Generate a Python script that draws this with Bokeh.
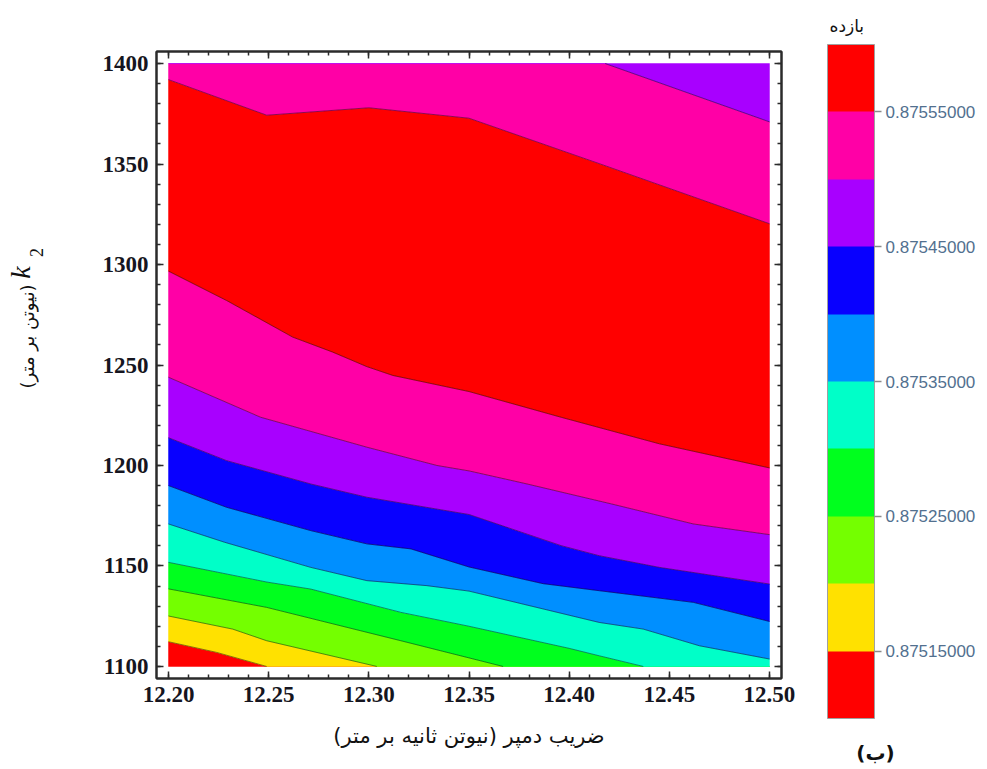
from bokeh.plotting import figure
from bokeh.models import (Range1d, LinearAxis, SingleIntervalTicker, PrintfTickFormatter,
                          CustomJSTickFormatter, Label, FixedTicker, ColorBar, LinearColorMapper)
from bokeh.embed import file_html
from bokeh.resources import INLINE

# ---------------- data ----------------
X_MIN, X_MAX = 12.20, 12.50
Y_MIN, Y_MAX = 1100.0, 1400.0

levels = [0.87510, 0.87515, 0.87520, 0.87525, 0.87530, 0.87535,
          0.87540, 0.87545, 0.87550, 0.87555, 0.87560]
band_colors = ["#ff0000", "#ffe100", "#74ff00", "#00ff1e", "#00ffc8",
               "#008fff", "#0800ff", "#a800ff", "#ff00a6", "#ff0000"]
cbar_ticks = [0.87515, 0.87525, 0.87535, 0.87545, 0.87555]

# contour lines: damping coefficient (x) vs k2 (y)
c_87515_x = [12.200, 12.224, 12.249]
c_87515_y = [1112.3, 1107.0, 1100.0]
c_87520_x = [12.200, 12.232, 12.249, 12.304]
c_87520_y = [1125.1, 1118.6, 1112.8, 1100.0]
c_87525_x = [12.200, 12.249, 12.316, 12.367]
c_87525_y = [1138.6, 1129.4, 1112.8, 1100.0]
c_87530_x = [12.200, 12.249, 12.271, 12.316, 12.350, 12.400, 12.415, 12.437]
c_87530_y = [1151.8, 1142.0, 1138.5, 1126.9, 1120.0, 1109.0, 1105.3, 1100.0]
c_87535_x = [12.200, 12.228, 12.271, 12.299, 12.329, 12.350, 12.415, 12.437, 12.465, 12.500]
c_87535_y = [1170.9, 1161.8, 1149.3, 1142.7, 1140.2, 1137.5, 1121.9, 1118.6, 1110.3, 1103.7]
c_87540_x = [12.200, 12.229, 12.271, 12.299, 12.321, 12.350, 12.387, 12.415, 12.462, 12.500]
c_87540_y = [1190.0, 1179.2, 1167.6, 1161.0, 1158.5, 1149.5, 1141.2, 1137.7, 1131.9, 1122.4]
c_87545_x = [12.200, 12.229, 12.271, 12.299, 12.350, 12.396, 12.415, 12.445, 12.500]
c_87545_y = [1213.8, 1202.4, 1190.8, 1184.2, 1175.6, 1160.1, 1155.1, 1149.3, 1141.0]
c_87550_x = [12.200, 12.246, 12.299, 12.334, 12.350, 12.379, 12.421, 12.462, 12.500]
c_87550_y = [1243.9, 1224.0, 1209.1, 1200.0, 1197.3, 1190.8, 1180.9, 1170.9, 1165.6]
c_87555_x = [12.200, 12.229, 12.262, 12.282, 12.299, 12.312, 12.350, 12.396, 12.445, 12.500]
c_87555_y = [1296.7, 1282.1, 1263.9, 1256.4, 1249.2, 1244.8, 1236.8, 1224.0, 1210.8, 1198.8]
c_87555b_x = [12.200, 12.249, 12.300, 12.350, 12.415, 12.500]
c_87555b_y = [1392.0, 1374.3, 1378.0, 1372.8, 1350.2, 1320.3]
c_87550b_x = [12.418, 12.500]
c_87550b_y = [1400.0, 1371.0]

# ---------------- layout constants ----------------
W_ALL, H_ALL = 985, 765
FL, FT, FW, FH = 156, 51, 625, 627
PADX = 0.02 * (X_MAX - X_MIN)
PADY = 0.02 * (Y_MAX - Y_MIN)
xr = (X_MIN - PADX, X_MAX + PADX)
yr = (Y_MIN - PADY, Y_MAX + PADY)


def mx(px):
    return xr[0] + (px - FL) / FW * (xr[1] - xr[0])


def my(py):
    return yr[1] - (py - FT) / FH * (yr[1] - yr[0])


p = figure(width=W_ALL, height=H_ALL, x_range=Range1d(*xr), y_range=Range1d(*yr),
           output_backend="svg", toolbar_location=None,
           min_border_left=FL, min_border_top=FT,
           min_border_right=W_ALL - FL - FW, min_border_bottom=H_ALL - FT - FH)
p.grid.visible = False
p.outline_line_color = "#2b2b2b"
p.outline_line_width = 2
p.background_fill_color = "white"
p.border_fill_color = "white"

# ---- contour bands ----
bottom = ([X_MIN, X_MAX], [Y_MIN, Y_MIN])
top = ([X_MIN, X_MAX], [Y_MAX, Y_MAX])
lines = [(c_87515_x, c_87515_y), (c_87520_x, c_87520_y), (c_87525_x, c_87525_y),
         (c_87530_x, c_87530_y), (c_87535_x, c_87535_y), (c_87540_x, c_87540_y),
         (c_87545_x, c_87545_y), (c_87550_x, c_87550_y), (c_87555_x, c_87555_y),
         (c_87555b_x, c_87555b_y), (c_87550b_x, c_87550b_y)]
band_index = [0, 1, 2, 3, 4, 5, 6, 7, 8, 9, 8, 7]


def extend(xs, ys):
    xs, ys = list(xs), list(ys)
    if xs[0] > X_MIN:
        xs.insert(0, X_MIN)
        ys.insert(0, ys[0])
    if xs[-1] < X_MAX:
        xs.append(X_MAX)
        ys.append(ys[-1])
    return xs, ys


bounds = [bottom] + [extend(x, y) for x, y in lines] + [top]
pxs, pys, pcol = [], [], []
for i in range(len(bounds) - 1):
    lo, hi = bounds[i], bounds[i + 1]
    pxs.append(lo[0] + hi[0][::-1])
    pys.append(lo[1] + hi[1][::-1])
    pcol.append(band_colors[band_index[i]])
p.patches(pxs, pys, fill_color=pcol, line_color=pcol, line_width=0.5)
p.multi_line([l[0] for l in lines], [l[1] for l in lines],
             line_color="black", line_alpha=0.45, line_width=1)

# ---- axes ----
xb = p.below[0]
yl = p.left[0]
top_ax = LinearAxis()
right_ax = LinearAxis()
p.add_layout(top_ax, "above")
p.add_layout(right_ax, "right")
xt = SingleIntervalTicker(interval=0.05, num_minor_ticks=5)
yt = SingleIntervalTicker(interval=50, num_minor_ticks=5)
xb.ticker = xt
top_ax.ticker = xt
yl.ticker = yt
right_ax.ticker = yt
xb.formatter = PrintfTickFormatter(format="%.2f")
for ax in [xb, yl, top_ax, right_ax]:
    ax.axis_line_color = "#2b2b2b"
    ax.axis_line_width = 2
    ax.major_tick_in = 7
    ax.major_tick_out = 0
    ax.minor_tick_in = 4
    ax.minor_tick_out = 0
    ax.major_tick_line_color = "#2b2b2b"
    ax.major_tick_line_width = 1.5
    ax.minor_tick_line_color = "#2b2b2b"
    ax.minor_tick_line_width = 1.5
    ax.major_label_text_font = "Liberation Serif"
    ax.major_label_text_font_style = "bold"
    ax.major_label_text_font_size = "23px"
    ax.major_label_text_color = "#151520"
yl.major_label_standoff = 8
xb.major_label_standoff = 8
for ax in [top_ax, right_ax]:
    ax.formatter = CustomJSTickFormatter(code="return ''")
    ax.major_label_text_font_size = "0px"
    ax.major_label_standoff = 0

# x axis title
xb.axis_label = "ضریب دمپر (نیوتن ثانیه بر متر)\u200f"
xb.axis_label_text_font = "DejaVu Sans"
xb.axis_label_text_font_style = "normal"
xb.axis_label_text_font_size = "21px"
xb.axis_label_text_color = "#111111"
xb.axis_label_standoff = 19

# y axis title (labels placed in the left side panel)
p.add_layout(Label(x=mx(27), y=my(336), text="(نیوتن بر متر)", angle=1.5708,
                   text_align="center", text_baseline="middle",
                   text_font="DejaVu Sans", text_font_size="18px", text_color="#111111"), "left")
p.add_layout(Label(x=mx(20), y=my(272), text="k", angle=1.5708,
                   text_align="center", text_baseline="middle", text_font_style="italic",
                   text_font="Liberation Serif", text_font_size="28px", text_color="#111111"), "left")
p.add_layout(Label(x=mx(36), y=my(252), text="2", angle=1.5708,
                   text_align="center", text_baseline="middle",
                   text_font="Liberation Serif", text_font_size="18px", text_color="#111111"), "left")

# ---------------- colour bar ----------------
REP = 60
mapper = LinearColorMapper(palette=[c for c in band_colors for _ in range(REP)],
                           low=levels[0], high=levels[-1])
cbar = ColorBar(color_mapper=mapper, ticker=FixedTicker(ticks=cbar_ticks),
                formatter=PrintfTickFormatter(format="%.8f"),
                width=47, height=674, location=(46, -40), padding=0, margin=0,
                major_label_text_font="Liberation Sans", major_label_text_font_size="17px",
                major_label_text_color="#52708f",
                major_tick_in=0, major_tick_out=7, major_tick_line_color="#8a8a8a",
                major_tick_line_width=1.5, minor_tick_line_color=None, label_standoff=4,
                bar_line_color="#a0a0a0", bar_line_width=1,
                border_line_color=None, background_fill_color=None)
p.add_layout(cbar, "right")

p.add_layout(Label(x=mx(829), y=my(25), text="بازده", text_align="left", text_baseline="middle",
                   text_font="DejaVu Sans", text_font_size="17px", text_color="#111111"), "above")
p.add_layout(Label(x=mx(875), y=my(752), text="(ب)", text_align="center", text_baseline="middle",
                   text_font="DejaVu Sans", text_font_size="20px", text_font_style="bold",
                   text_color="#111111"), "above")

open("out.html", "w").write(file_html(p, INLINE))
